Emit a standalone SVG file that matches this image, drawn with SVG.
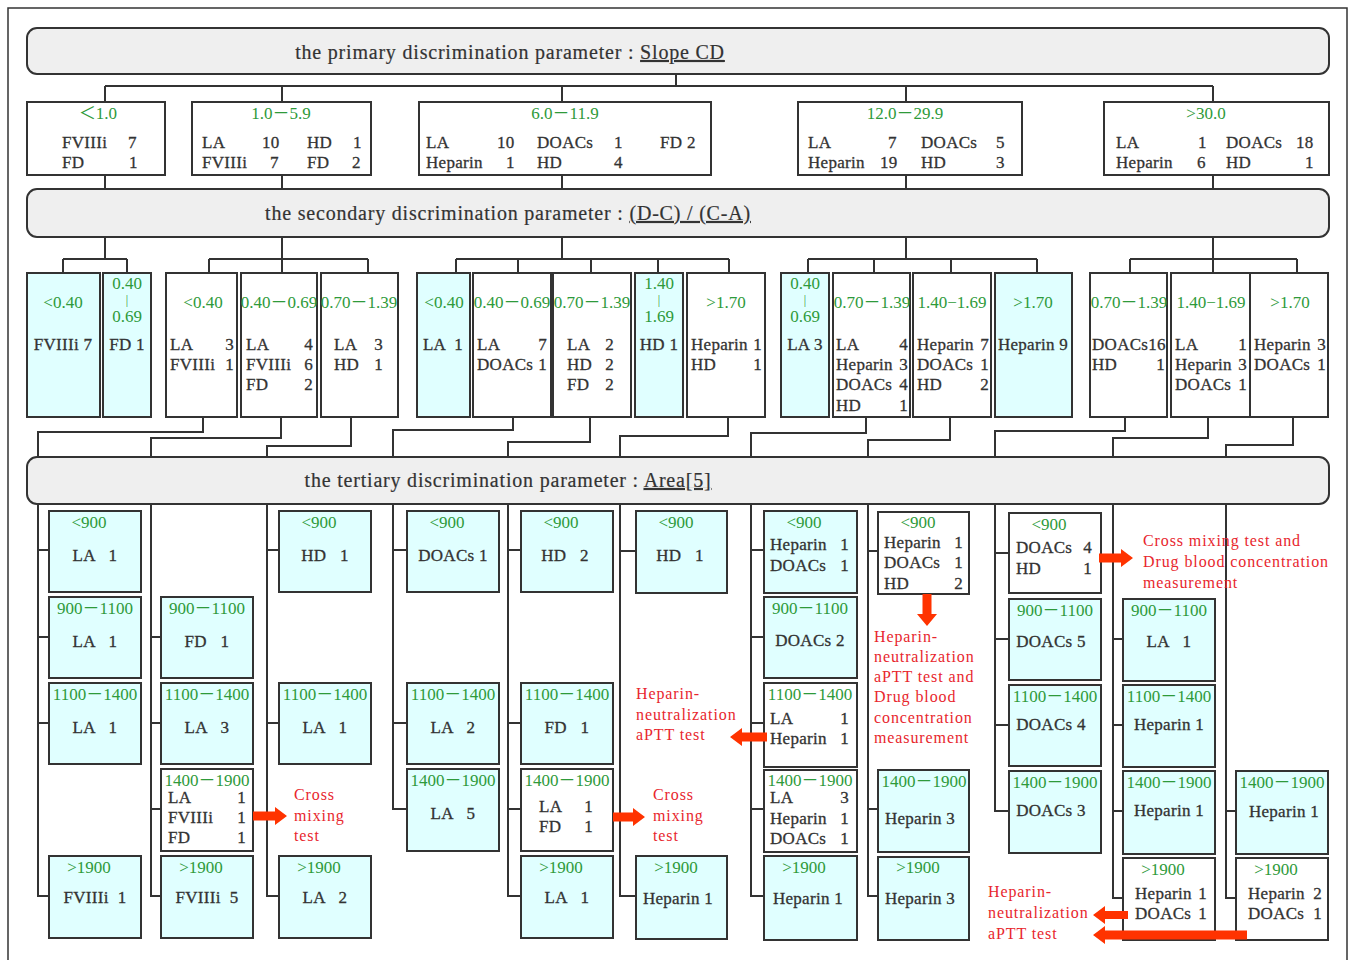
<svg xmlns="http://www.w3.org/2000/svg" width="1349" height="960" viewBox="0 0 1349 960">
<style>
text{font-family:"Liberation Serif","Noto Sans CJK JP",serif;font-size:17px;fill:#333;letter-spacing:0.3px;stroke:#333;stroke-width:0.3px}
.g{fill:#2e9a3a;stroke:none;letter-spacing:0}
.m{text-anchor:middle}
.e{text-anchor:end}
.r{fill:#e8262d;stroke:none;font-size:16px;letter-spacing:0.9px}
.t{font-size:20px;letter-spacing:0.8px;text-anchor:middle;stroke-width:0.2px}
.bar{font-size:12px}
.u{text-decoration:underline}
.bn{fill:#efefef;stroke:#333;stroke-width:2}
.w{fill:#fff;stroke:#333;stroke-width:2}
.c{fill:#e0ffff;stroke:#333;stroke-width:2}
.ln{fill:none;stroke:#333;stroke-width:2}
.ar{fill:#ff3300}
</style>
<path d="M8,960 V8 H1347 V960" fill="none" stroke="#333" stroke-width="1.5"/>

<g id="connectors" class="ln">
<path d="M676,74 V86 M105,86 H1213 M105,86 V102 M282,86 V102 M562,86 V102 M906,86 V102 M1213,86 V102"/>
<path d="M105,175 V189 M282,175 V189 M562,175 V189 M906,175 V189 M1213,175 V189"/>
<path d="M105,237 V259 M63,259 H127 M63,259 V273 M127,259 V273"/>
<path d="M282,237 V273 M209,259 H368 M209,259 V273 M368,259 V273"/>
<path d="M562,237 V259 M456,259 H729 M456,259 V273 M518,259 V273 M591,259 V273 M658,259 V273 M729,259 V273"/>
<path d="M906,237 V259 M808,259 H1037 M808,259 V273 M874,259 V273 M951,259 V273 M1037,259 V273"/>
<path d="M1213,237 V273 M1130,259 H1297 M1130,259 V273 M1297,259 V273"/>
<path d="M203,417 V432 H38 V457 M281,417 V438 H151 V457 M351,417 V446 H267 V457 M513,417 V430 H393 V457 M590,417 V442 H508 V457 M728,417 V436 H620 V457 M866,417 V433 H751 V457 M950,417 V440 H868 V457 M1125,417 V431 H995 V457 M1208,417 V438 H1113 V457 M1293,417 V445 H1226 V457"/>
<path d="M38,504 V896 H49 M38,550 H49 M38,637 H49 M38,723 H49"/>
<path d="M151,504 V896 H161 M151,637 H161 M151,723 H161 M151,809 H161"/>
<path d="M267,504 V896 H279 M267,550 H279 M267,723 H279"/>
<path d="M393,504 V809 H407 M393,550 H407 M393,723 H407"/>
<path d="M508,504 V896 H521 M508,550 H521 M508,723 H521 M508,809 H521"/>
<path d="M620,504 V896 H636 M620,551 H636"/>
<path d="M751,504 V896 H764 M751,550 H764 M751,637 H764 M751,723 H764 M751,809 H764"/>
<path d="M868,504 V896 H878 M868,551 H878 M868,809 H878"/>
<path d="M995,504 V811 H1009 M995,553 H1009 M995,639 H1009 M995,725 H1009"/>
<path d="M1113,504 V898 H1123 M1113,639 H1123 M1113,725 H1123 M1113,811 H1123"/>
<path d="M1226,504 V898 H1236 M1226,811 H1236"/>
</g>

<g id="banner1"><rect class="bn" x="27" y="28" width="1302" height="46" rx="10"/><text class="t" x="510" y="59">the primary discrimination parameter : <tspan class="u">Slope CD</tspan></text></g>
<g id="banner2"><rect class="bn" x="27" y="189" width="1302" height="48" rx="10"/><text class="t" x="508" y="220">the secondary discrimination parameter : <tspan class="u">(D-C) / (C-A)</tspan></text></g>
<g id="banner3"><rect class="bn" x="27" y="457" width="1302" height="47" rx="10"/><text class="t" x="508" y="487">the tertiary discrimination parameter : <tspan class="u">Area[5]</tspan></text></g>

<!-- row 1 -->
<g id="p1"><rect class="w" x="27" y="102" width="138" height="73"/><text class="g m" x="98" y="119">＜1.0</text><text x="62" y="148">FVIIIi</text><text x="128" y="148">7</text><text x="62" y="168">FD</text><text x="129" y="168">1</text></g>
<g id="p2"><rect class="w" x="192" y="102" width="179" height="73"/><text class="g m" x="281" y="119">1.0－5.9</text><text x="202" y="148">LA</text><text x="262" y="148">10</text><text x="307" y="148">HD</text><text x="353" y="148">1</text><text x="202" y="168">FVIIIi</text><text x="270" y="168">7</text><text x="307" y="168">FD</text><text x="352" y="168">2</text></g>
<g id="p3"><rect class="w" x="419" y="102" width="292" height="73"/><text class="g m" x="565" y="119">6.0－11.9</text><text x="426" y="148">LA</text><text x="497" y="148">10</text><text x="537" y="148">DOACs</text><text x="614" y="148">1</text><text x="660" y="148">FD 2</text><text x="426" y="168">Heparin</text><text x="506" y="168">1</text><text x="537" y="168">HD</text><text x="614" y="168">4</text></g>
<g id="p4"><rect class="w" x="798" y="102" width="224" height="73"/><text class="g m" x="905" y="119">12.0－29.9</text><text x="808" y="148">LA</text><text x="888" y="148">7</text><text x="921" y="148">DOACs</text><text x="996" y="148">5</text><text x="808" y="168">Heparin</text><text x="880" y="168">19</text><text x="921" y="168">HD</text><text x="996" y="168">3</text></g>
<g id="p5"><rect class="w" x="1104" y="102" width="225" height="73"/><text class="g m" x="1206" y="119">&gt;30.0</text><text x="1116" y="148">LA</text><text x="1198" y="148">1</text><text x="1226" y="148">DOACs</text><text x="1296" y="148">18</text><text x="1116" y="168">Heparin</text><text x="1197" y="168">6</text><text x="1226" y="168">HD</text><text x="1305" y="168">1</text></g>

<!-- row 2 -->
<g id="s1"><rect class="c" x="27" y="273" width="73" height="144"/><text class="g m" x="63" y="308">&lt;0.40</text><text class="m" x="63" y="350">FVIIIi 7</text></g>
<g id="s2"><rect class="c" x="103" y="273" width="48" height="144"/><text class="g m" x="127" y="289">0.40</text><text class="g m bar" x="127" y="304">|</text><text class="g m" x="127" y="322">0.69</text><text class="m" x="127" y="350">FD 1</text></g>
<g id="s3"><rect class="w" x="166" y="273" width="71" height="144"/><text class="g m" x="203" y="308">&lt;0.40</text><text x="170" y="350">LA</text><text class="e" x="234" y="350">3</text><text x="170" y="370">FVIIIi</text><text class="e" x="234" y="370">1</text></g>
<g id="s4"><rect class="w" x="241" y="273" width="76" height="144"/><text class="g m" x="279" y="308">0.40－0.69</text><text x="246" y="350">LA</text><text class="e" x="313" y="350">4</text><text x="246" y="370">FVIIIi</text><text class="e" x="313" y="370">6</text><text x="246" y="390">FD</text><text class="e" x="313" y="390">2</text></g>
<g id="s5"><rect class="w" x="321" y="273" width="77" height="144"/><text class="g m" x="359" y="308">0.70－1.39</text><text x="334" y="350">LA</text><text class="e" x="383" y="350">3</text><text x="334" y="370">HD</text><text class="e" x="383" y="370">1</text></g>
<g id="s6"><rect class="c" x="417" y="273" width="53" height="144"/><text class="g m" x="444" y="308">&lt;0.40</text><text class="m" x="443" y="350" xml:space="preserve">LA  1</text></g>
<g id="s7"><rect class="w" x="473" y="273" width="78" height="144"/><text class="g m" x="512" y="308">0.40－0.69</text><text x="477" y="350">LA</text><text class="e" x="547" y="350">7</text><text x="477" y="370">DOACs</text><text class="e" x="547" y="370">1</text></g>
<g id="s8"><rect class="w" x="553" y="273" width="78" height="144"/><text class="g m" x="592" y="308">0.70－1.39</text><text x="567" y="350">LA</text><text class="e" x="614" y="350">2</text><text x="567" y="370">HD</text><text class="e" x="614" y="370">2</text><text x="567" y="390">FD</text><text class="e" x="614" y="390">2</text></g>
<g id="s9"><rect class="c" x="635" y="273" width="48" height="144"/><text class="g m" x="659" y="289">1.40</text><text class="g m bar" x="659" y="304">|</text><text class="g m" x="659" y="322">1.69</text><text class="m" x="659" y="350">HD 1</text></g>
<g id="s10"><rect class="w" x="687" y="273" width="78" height="144"/><text class="g m" x="726" y="308">&gt;1.70</text><text x="691" y="350">Heparin</text><text class="e" x="762" y="350">1</text><text x="691" y="370">HD</text><text class="e" x="762" y="370">1</text></g>
<g id="s11"><rect class="c" x="781" y="273" width="48" height="144"/><text class="g m" x="805" y="289">0.40</text><text class="g m bar" x="805" y="304">|</text><text class="g m" x="805" y="322">0.69</text><text class="m" x="805" y="350">LA 3</text></g>
<g id="s12"><rect class="w" x="833" y="273" width="77" height="144"/><text class="g m" x="872" y="308">0.70－1.39</text><text x="836" y="350">LA</text><text class="e" x="908" y="350">4</text><text x="836" y="370">Heparin</text><text class="e" x="908" y="370">3</text><text x="836" y="390">DOACs</text><text class="e" x="908" y="390">4</text><text x="836" y="411">HD</text><text class="e" x="908" y="411">1</text></g>
<g id="s13"><rect class="w" x="913" y="273" width="78" height="144"/><text class="g m" x="952" y="308">1.40−1.69</text><text x="917" y="350">Heparin</text><text class="e" x="989" y="350">7</text><text x="917" y="370">DOACs</text><text class="e" x="989" y="370">1</text><text x="917" y="390">HD</text><text class="e" x="989" y="390">2</text></g>
<g id="s14"><rect class="c" x="995" y="273" width="77" height="144"/><text class="g m" x="1033" y="308">&gt;1.70</text><text class="m" x="1033" y="350">Heparin 9</text></g>
<g id="s15"><rect class="w" x="1090" y="273" width="77" height="144"/><text class="g m" x="1129" y="308">0.70－1.39</text><text x="1092" y="350">DOACs16</text><text x="1092" y="370">HD</text><text class="e" x="1165" y="370">1</text></g>
<g id="s16"><rect class="w" x="1171" y="273" width="79" height="144"/><text class="g m" x="1211" y="308">1.40−1.69</text><text x="1175" y="350">LA</text><text class="e" x="1247" y="350">1</text><text x="1175" y="370">Heparin</text><text class="e" x="1247" y="370">3</text><text x="1175" y="390">DOACs</text><text class="e" x="1247" y="390">1</text></g>
<g id="s17"><rect class="w" x="1250" y="273" width="78" height="144"/><text class="g m" x="1290" y="308">&gt;1.70</text><text x="1254" y="350">Heparin</text><text class="e" x="1326" y="350">3</text><text x="1254" y="370">DOACs</text><text class="e" x="1326" y="370">1</text></g>

<!-- tertiary -->
<g id="tA1"><rect class="c" x="49" y="511" width="92" height="81"/><text class="g m" x="89" y="528">&lt;900</text><text class="m" x="95" y="561" xml:space="preserve">LA   1</text></g>
<g id="tA2"><rect class="c" x="49" y="597" width="92" height="81"/><text class="g m" x="95" y="614">900－1100</text><text class="m" x="95" y="647" xml:space="preserve">LA   1</text></g>
<g id="tA3"><rect class="c" x="49" y="683" width="92" height="81"/><text class="g m" x="95" y="700">1100－1400</text><text class="m" x="95" y="733" xml:space="preserve">LA   1</text></g>
<g id="tA4"><rect class="c" x="49" y="856" width="92" height="82"/><text class="g m" x="89" y="873">&gt;1900</text><text class="m" x="95" y="903" xml:space="preserve">FVIIIi  1</text></g>
<g id="tB1"><rect class="c" x="161" y="597" width="92" height="81"/><text class="g m" x="207" y="614">900－1100</text><text class="m" x="207" y="647" xml:space="preserve">FD   1</text></g>
<g id="tB2"><rect class="c" x="161" y="683" width="92" height="81"/><text class="g m" x="207" y="700">1100－1400</text><text class="m" x="207" y="733" xml:space="preserve">LA   3</text></g>
<g id="tB3"><rect class="w" x="161" y="769" width="92" height="82"/><text class="g m" x="207" y="786">1400－1900</text><text x="168" y="803">LA</text><text class="e" x="246" y="803">1</text><text x="168" y="823">FVIIIi</text><text class="e" x="246" y="823">1</text><text x="168" y="843">FD</text><text class="e" x="246" y="843">1</text></g>
<g id="tB4"><rect class="c" x="161" y="856" width="92" height="82"/><text class="g m" x="201" y="873">&gt;1900</text><text class="m" x="207" y="903" xml:space="preserve">FVIIIi  5</text></g>
<g id="tC1"><rect class="c" x="279" y="511" width="92" height="81"/><text class="g m" x="319" y="528">&lt;900</text><text class="m" x="325" y="561" xml:space="preserve">HD   1</text></g>
<g id="tC2"><rect class="c" x="279" y="683" width="92" height="81"/><text class="g m" x="325" y="700">1100－1400</text><text class="m" x="325" y="733" xml:space="preserve">LA   1</text></g>
<g id="tC3"><rect class="c" x="279" y="856" width="92" height="82"/><text class="g m" x="319" y="873">&gt;1900</text><text class="m" x="325" y="903" xml:space="preserve">LA   2</text></g>
<g id="tD1"><rect class="c" x="407" y="511" width="92" height="81"/><text class="g m" x="447" y="528">&lt;900</text><text class="m" x="453" y="561">DOACs 1</text></g>
<g id="tD2"><rect class="c" x="407" y="683" width="92" height="81"/><text class="g m" x="453" y="700">1100－1400</text><text class="m" x="453" y="733" xml:space="preserve">LA   2</text></g>
<g id="tD3"><rect class="c" x="407" y="769" width="92" height="82"/><text class="g m" x="453" y="786">1400－1900</text><text class="m" x="453" y="819" xml:space="preserve">LA   5</text></g>
<g id="tE1"><rect class="c" x="521" y="511" width="92" height="81"/><text class="g m" x="561" y="528">&lt;900</text><text class="m" x="565" y="561" xml:space="preserve">HD   2</text></g>
<g id="tE2"><rect class="c" x="521" y="683" width="92" height="81"/><text class="g m" x="567" y="700">1100－1400</text><text class="m" x="567" y="733" xml:space="preserve">FD   1</text></g>
<g id="tE3"><rect class="w" x="521" y="769" width="92" height="82"/><text class="g m" x="567" y="786">1400－1900</text><text x="539" y="812">LA</text><text class="e" x="593" y="812">1</text><text x="539" y="832">FD</text><text class="e" x="593" y="832">1</text></g>
<g id="tE4"><rect class="c" x="521" y="856" width="92" height="82"/><text class="g m" x="561" y="873">&gt;1900</text><text class="m" x="567" y="903" xml:space="preserve">LA   1</text></g>
<g id="tF1"><rect class="c" x="636" y="511" width="91" height="82"/><text class="g m" x="676" y="528">&lt;900</text><text class="m" x="680" y="561" xml:space="preserve">HD   1</text></g>
<g id="tF2"><rect class="c" x="636" y="856" width="91" height="83"/><text class="g m" x="676" y="873">&gt;1900</text><text class="m" x="678" y="904">Heparin 1</text></g>
<g id="tG1"><rect class="c" x="764" y="511" width="93" height="82"/><text class="g m" x="804" y="528">&lt;900</text><text x="770" y="550">Heparin</text><text class="e" x="849" y="550">1</text><text x="770" y="571">DOACs</text><text class="e" x="849" y="571">1</text></g>
<g id="tG2"><rect class="c" x="764" y="597" width="93" height="81"/><text class="g m" x="810" y="614">900－1100</text><text class="m" x="810" y="646">DOACs 2</text></g>
<g id="tG3"><rect class="w" x="764" y="683" width="93" height="84"/><text class="g m" x="810" y="700">1100－1400</text><text x="770" y="724">LA</text><text class="e" x="849" y="724">1</text><text x="770" y="744">Heparin</text><text class="e" x="849" y="744">1</text></g>
<g id="tG4"><rect class="w" x="764" y="770" width="93" height="82"/><text class="g m" x="810" y="786">1400－1900</text><text x="770" y="803">LA</text><text class="e" x="849" y="803">3</text><text x="770" y="824">Heparin</text><text class="e" x="849" y="824">1</text><text x="770" y="844">DOACs</text><text class="e" x="849" y="844">1</text></g>
<g id="tG5"><rect class="c" x="764" y="856" width="93" height="84"/><text class="g m" x="804" y="873">&gt;1900</text><text class="m" x="808" y="904">Heparin 1</text></g>
<g id="tH1"><rect class="w" x="878" y="512" width="91" height="82"/><text class="g m" x="918" y="528">&lt;900</text><text x="884" y="548">Heparin</text><text class="e" x="963" y="548">1</text><text x="884" y="568">DOACs</text><text class="e" x="963" y="568">1</text><text x="884" y="589">HD</text><text class="e" x="963" y="589">2</text></g>
<g id="tH2"><rect class="c" x="878" y="770" width="91" height="82"/><text class="g m" x="924" y="787">1400－1900</text><text class="m" x="920" y="824">Heparin 3</text></g>
<g id="tH3"><rect class="c" x="878" y="857" width="91" height="83"/><text class="g m" x="918" y="873">&gt;1900</text><text class="m" x="920" y="904">Heparin 3</text></g>
<g id="tI1"><rect class="w" x="1009" y="513" width="92" height="80"/><text class="g m" x="1049" y="530">&lt;900</text><text x="1016" y="553">DOACs</text><text class="e" x="1092" y="553">4</text><text x="1016" y="574">HD</text><text class="e" x="1092" y="574">1</text></g>
<g id="tI2"><rect class="c" x="1009" y="599" width="92" height="81"/><text class="g m" x="1055" y="616">900－1100</text><text class="m" x="1051" y="647">DOACs 5</text></g>
<g id="tI3"><rect class="c" x="1009" y="685" width="92" height="81"/><text class="g m" x="1055" y="702">1100－1400</text><text class="m" x="1051" y="730">DOACs 4</text></g>
<g id="tI4"><rect class="c" x="1009" y="771" width="92" height="82"/><text class="g m" x="1055" y="788">1400－1900</text><text class="m" x="1051" y="816">DOACs 3</text></g>
<g id="tJ1"><rect class="c" x="1123" y="599" width="92" height="82"/><text class="g m" x="1169" y="616">900－1100</text><text class="m" x="1169" y="647" xml:space="preserve">LA   1</text></g>
<g id="tJ2"><rect class="c" x="1123" y="685" width="92" height="82"/><text class="g m" x="1169" y="702">1100－1400</text><text class="m" x="1169" y="730">Heparin 1</text></g>
<g id="tJ3"><rect class="c" x="1123" y="771" width="92" height="83"/><text class="g m" x="1169" y="788">1400－1900</text><text class="m" x="1169" y="816">Heparin 1</text></g>
<g id="tJ4"><rect class="w" x="1123" y="858" width="92" height="82"/><text class="g m" x="1163" y="875">&gt;1900</text><text x="1135" y="899">Heparin</text><text class="e" x="1207" y="899">1</text><text x="1135" y="919">DOACs</text><text class="e" x="1207" y="919">1</text></g>
<g id="tK1"><rect class="c" x="1236" y="771" width="92" height="83"/><text class="g m" x="1282" y="788">1400－1900</text><text class="m" x="1284" y="817">Heparin 1</text></g>
<g id="tK2"><rect class="w" x="1236" y="858" width="92" height="82"/><text class="g m" x="1276" y="875">&gt;1900</text><text x="1248" y="899">Heparin</text><text class="e" x="1322" y="899">2</text><text x="1248" y="919">DOACs</text><text class="e" x="1322" y="919">1</text></g>

<!-- notes -->
<g id="note1"><text class="r" x="294" y="800">Cross</text><text class="r" x="294" y="821">mixing</text><text class="r" x="294" y="841">test</text></g>
<g id="note2"><text class="r" x="653" y="800">Cross</text><text class="r" x="653" y="821">mixing</text><text class="r" x="653" y="841">test</text></g>
<g id="note3"><text class="r" x="636" y="699">Heparin-</text><text class="r" x="636" y="720">neutralization</text><text class="r" x="636" y="740">aPTT test</text></g>
<g id="note4"><text class="r" x="874" y="642">Heparin-</text><text class="r" x="874" y="662">neutralization</text><text class="r" x="874" y="682">aPTT test and</text><text class="r" x="874" y="702">Drug blood</text><text class="r" x="874" y="723">concentration</text><text class="r" x="874" y="743">measurement</text></g>
<g id="note5"><text class="r" x="1143" y="546">Cross mixing test and</text><text class="r" x="1143" y="567">Drug blood concentration</text><text class="r" x="1143" y="588">measurement</text></g>
<g id="note6"><text class="r" x="988" y="897">Heparin-</text><text class="r" x="988" y="918">neutralization</text><text class="r" x="988" y="939">aPTT test</text></g>

<g id="arrows" class="ar">
<polygon points="253,811.5 275,811.5 275,807 287,816 275,825 275,820.5 253,820.5"/>
<polygon points="613,812.5 633,812.5 633,808 645,817 633,826 633,821.5 613,821.5"/>
<polygon points="767,732.5 742,732.5 742,728 730,737 742,746 742,741.5 767,741.5"/>
<polygon points="922.5,594 931.5,594 931.5,614 937,614 927,626 917,614 922.5,614"/>
<polygon points="1099,553.5 1121,553.5 1121,549 1133,558 1121,567 1121,562.5 1099,562.5"/>
<polygon points="1128,911 1105,911 1105,906 1093,915 1105,924 1105,919 1128,919"/>
<polygon points="1247,930.5 1105,930.5 1105,926 1093,935 1105,944 1105,939.5 1247,939.5"/>
</g>
</svg>
